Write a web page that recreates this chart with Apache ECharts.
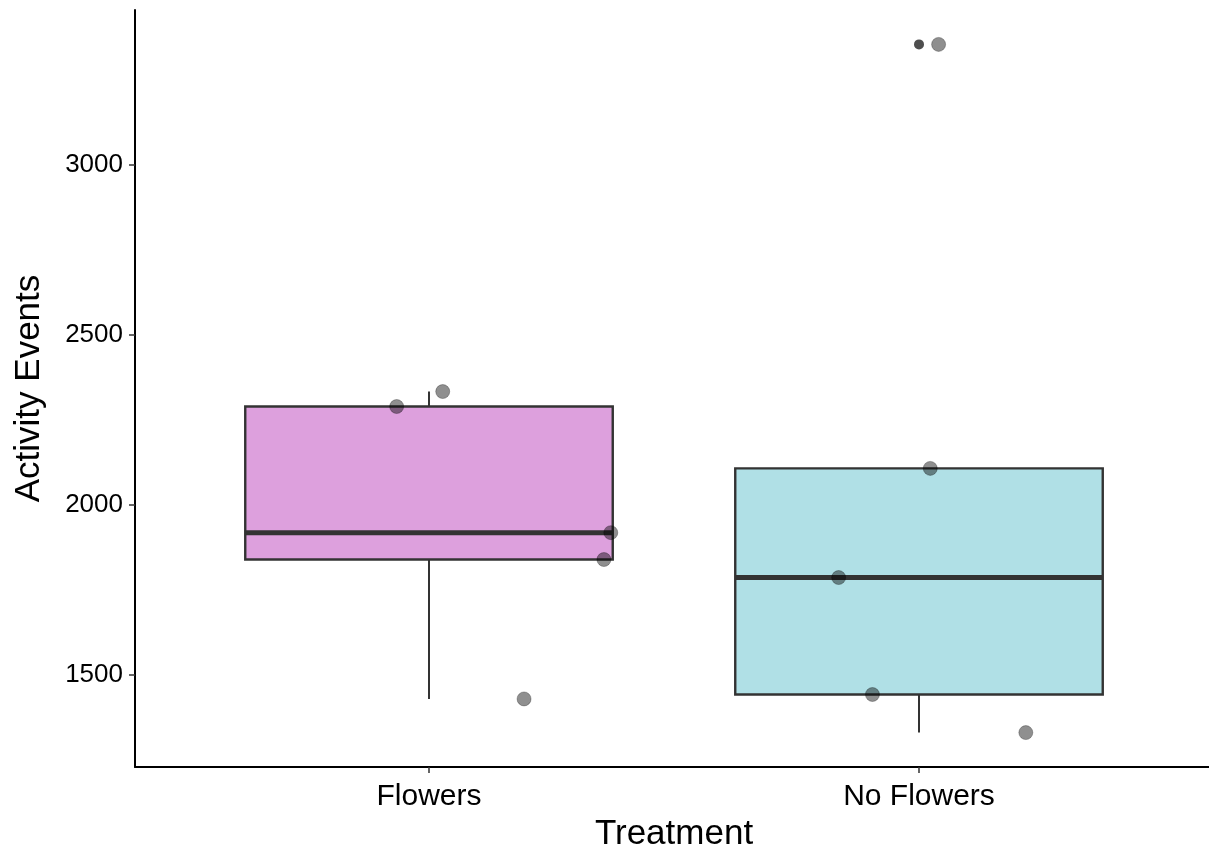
<!DOCTYPE html>
<html>
<head>
<meta charset="utf-8">
<script src="https://cdn.jsdelivr.net/npm/echarts@6/dist/echarts.min.js"></script>
<style>
  html, body { margin: 0; padding: 0; background: #ffffff; }
  #chart { width: 1209px; height: 848px; }
</style>
</head>
<body>
<div id="chart"></div>
<script>
// Activity events per treatment group
const categories = ['Flowers', 'No Flowers'];
const flowersValues = [2289, 2333, 1918, 1839, 1429];
const noFlowersValues = [3354, 2107, 1786, 1442, 1330];
// horizontal jitter of each observation (category 1 = Flowers, 2 = No Flowers)
const flowersJitter = [0.934, 1.028, 1.371, 1.357, 1.194];
const noFlowersJitter = [2.040, 2.023, 1.836, 1.905, 2.218];
const yTicks = [1500, 2000, 2500, 3000];
const fillColors = ['#DDA0DD', '#B0E0E6'];

const groups = [flowersValues, noFlowersValues];
const jitters = [flowersJitter, noFlowersJitter];

function quantile(sorted, p) {
  const h = (sorted.length - 1) * p;
  const lo = Math.floor(h);
  const hi = Math.min(lo + 1, sorted.length - 1);
  return sorted[lo] + (h - lo) * (sorted[hi] - sorted[lo]);
}

// Tukey box statistics (quartiles, 1.5 IQR whiskers, outliers)
const boxData = [];
const outlierData = [];
groups.forEach(function (vals, i) {
  const s = vals.slice().sort(function (a, b) { return a - b; });
  const q1 = quantile(s, 0.25), med = quantile(s, 0.5), q3 = quantile(s, 0.75);
  const iqr = q3 - q1;
  const loF = q1 - 1.5 * iqr, hiF = q3 + 1.5 * iqr;
  const inside = s.filter(function (v) { return v >= loF && v <= hiF; });
  const lo = inside[0], hi = inside[inside.length - 1];
  boxData.push([i + 1, lo, q1, med, q3, hi, i]);
  s.forEach(function (v) { if (v < loF || v > hiF) outlierData.push([i + 1, v]); });
});

const pointData = [];
groups.forEach(function (vals, i) {
  vals.forEach(function (v, j) { pointData.push([jitters[i][j], v]); });
});

const allVals = flowersValues.concat(noFlowersValues);
const dMin = Math.min.apply(null, allVals), dMax = Math.max.apply(null, allVals);
const pad = (dMax - dMin) * 0.05;

const chart = echarts.init(document.getElementById('chart'), null, { renderer: 'canvas' });

const textColor = '#000000';
const fontFamily = '"Liberation Sans", Arial, sans-serif';

chart.setOption({
  backgroundColor: '#ffffff',
  animation: false,
  grid: { left: 135, right: -4, top: 10, bottom: 81, containLabel: false, outerBoundsMode: 'none' },
  xAxis: {
    type: 'value',
    min: 0.4,
    max: 2.6,
    name: 'Treatment',
    nameLocation: 'middle',
    nameGap: 47,
    nameTextStyle: { fontSize: 35, color: textColor, fontFamily: fontFamily },
    splitLine: { show: false },
    axisLine: { show: true, onZero: false, lineStyle: { color: '#000', width: 2 } },
    axisTick: { show: true, length: 6, lineStyle: { color: '#333', width: 1.5 }, customValues: [1, 2] },
    axisLabel: {
      fontSize: 30, color: textColor, fontFamily: fontFamily, margin: 15,
      customValues: [1, 2],
      formatter: function (v) { return categories[Math.round(v) - 1] || ''; }
    }
  },
  yAxis: {
    type: 'value',
    min: dMin - pad,
    max: dMax + pad,
    name: 'Activity Events',
    nameLocation: 'middle',
    nameGap: 88,
    nameTextStyle: { fontSize: 35, color: textColor, fontFamily: fontFamily },
    splitLine: { show: false },
    axisLine: { show: true, onZero: false, lineStyle: { color: '#000', width: 2 } },
    axisTick: { show: true, length: 6, lineStyle: { color: '#333', width: 1.5 }, customValues: yTicks },
    axisLabel: {
      fontSize: 26, color: textColor, fontFamily: fontFamily, margin: 12, customValues: yTicks,
      formatter: function (v) { return String(v); }
    }
  },
  series: [
    {
      type: 'custom',
      data: boxData,
      encode: { x: 0, y: [1, 2, 3, 4, 5] },
      clip: false,
      renderItem: function (params, api) {
        const x = api.value(0);
        const lo = api.value(1), q1 = api.value(2), med = api.value(3), q3 = api.value(4), hi = api.value(5);
        const half = 0.375;
        const tl = api.coord([x - half, q3]);
        const br = api.coord([x + half, q1]);
        const c = api.coord([x, med]);
        const pLo = api.coord([x, lo]);
        const pHi = api.coord([x, hi]);
        const line = { stroke: '#333333', lineWidth: 2 };
        return {
          type: 'group',
          children: [
            { type: 'line', shape: { x1: c[0], y1: tl[1], x2: c[0], y2: pHi[1] }, style: line },
            { type: 'line', shape: { x1: c[0], y1: br[1], x2: c[0], y2: pLo[1] }, style: line },
            {
              type: 'rect',
              shape: { x: tl[0], y: tl[1], width: br[0] - tl[0], height: br[1] - tl[1] },
              style: { fill: fillColors[api.value(6)], stroke: '#333333', lineWidth: 2.4 }
            },
            { type: 'line', shape: { x1: tl[0], y1: c[1], x2: br[0], y2: c[1] }, style: { stroke: '#333333', lineWidth: 5 } }
          ]
        };
      },
      z: 1
    },
    {
      type: 'scatter',
      data: outlierData,
      symbol: 'circle',
      symbolSize: 10,
      itemStyle: { color: '#222222' },
      z: 2
    },
    {
      type: 'scatter',
      data: pointData,
      symbol: 'circle',
      symbolSize: 14,
      itemStyle: { color: 'rgba(0,0,0,0.55)', borderColor: 'rgba(0,0,0,0.35)', borderWidth: 1 },
      z: 3
    }
  ]
});
</script>
</body>
</html>
